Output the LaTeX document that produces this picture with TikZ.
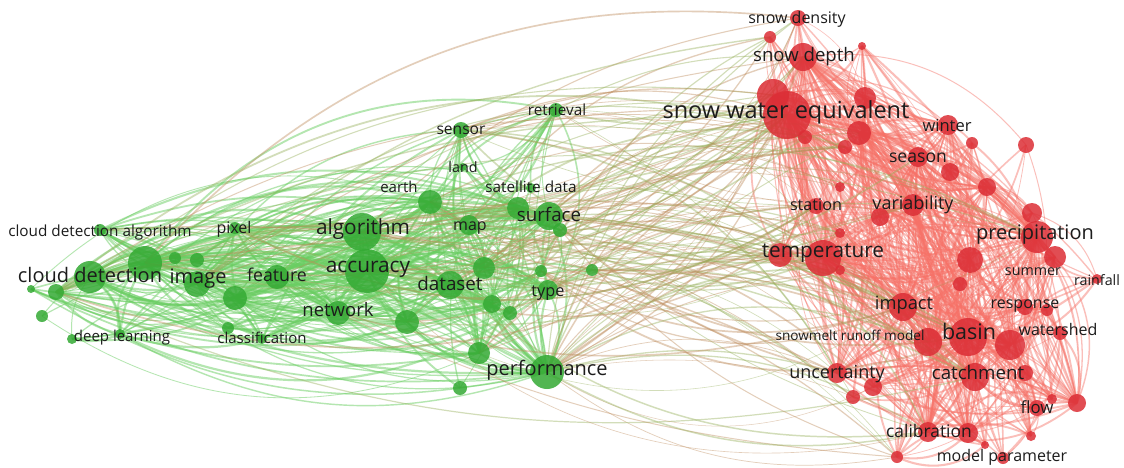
\documentclass[tikz,border=0pt]{standalone}
\usepackage{fontspec}
\setmainfont{Open Sans}
\pgfdeclarelayer{paper}
\pgfdeclarelayer{links}
\pgfsetlayers{paper,links,main}
\definecolor{gnodecol}{RGB}{52,170,52}
\definecolor{rnodecol}{RGB}{220,46,54}
\definecolor{glink}{RGB}{106,206,98}
\definecolor{rlink}{RGB}{246,114,104}
\definecolor{xlinkA}{RGB}{150,176,90}
\definecolor{xlinkB}{RGB}{190,140,92}
\definecolor{labelcol}{RGB}{28,28,28}
\tikzset{
  gn/.style={circle,inner sep=0pt,minimum size=#1pt,fill=gnodecol,fill opacity=0.85,draw=none},
  rn/.style={circle,inner sep=0pt,minimum size=#1pt,fill=rnodecol,fill opacity=0.85,draw=none},
  lab/.style={text=labelcol,inner sep=0pt,text height=1em,text depth=0em,
    font=\fontsize{#1}{#1}\selectfont},
  glinkstyle/.style={draw=glink,draw opacity=0.5},
  rlinkstyle/.style={draw=rlink,draw opacity=0.45},
  xlinkstyle/.style={draw=#1,draw opacity=0.42},
}
\begin{document}
\begin{tikzpicture}[x=1pt,y=-1pt]
\useasboundingbox (0,0) rectangle (1124,467);
\begin{pgfonlayer}{paper}
\fill[white] (0,0) rectangle (1124,467);
\end{pgfonlayer}

% ---- remote sensing / cloud detection cluster ----
\node[gn=32] (g1) at (90,277) {};
\node[gn=34] (g2) at (145,263) {};
\node[gn=26] (g3) at (197,284) {};
\node[gn=12] (g4) at (100,230) {};
\node[gn=12] (g5) at (235,228) {};
\node[gn=24] (g6) at (277,277) {};
\node[gn=10] (g7) at (120,334) {};
\node[gn=10] (g8) at (262,339) {};
\node[gn=38] (g9) at (362,232) {};
\node[gn=44] (g10) at (367,271) {};
\node[gn=24] (g11) at (338,313) {};
\node[gn=28] (g12) at (450,285) {};
\node[gn=20] (g13) at (469,225) {};
\node[gn=24] (g14) at (430,202) {};
\node[gn=8] (g15) at (463,167) {};
\node[gn=16] (g16) at (461,130) {};
\node[gn=14] (g17) at (556,110) {};
\node[gn=10] (g18) at (531,188) {};
\node[gn=28] (g19) at (549,216) {};
\node[gn=22] (g20) at (518,208) {};
\node[gn=14] (g21) at (560,230) {};
\node[gn=20] (g22) at (548,290) {};
\node[gn=34] (g23) at (547,372) {};
\node[gn=22] (g24) at (484,268) {};
\node[gn=12] (g25) at (541,271) {};
\node[gn=12] (g26) at (592,270) {};
\node[gn=18] (g27) at (492,304) {};
\node[gn=14] (g28) at (510,313) {};
\node[gn=24] (g29) at (407,322) {};
\node[gn=22] (g30) at (479,353) {};
\node[gn=14] (g31) at (460,388) {};
\node[gn=24] (g32) at (235,298) {};
\node[gn=12] (g33) at (175,258) {};
\node[gn=14] (g34) at (197,260) {};
\node[gn=16] (g35) at (56,292) {};
\node[gn=12] (g36) at (42,316) {};
\node[gn=8] (g37) at (31,289) {};
\node[gn=10] (g38) at (72,339) {};
\node[gn=12] (g39) at (228,328) {};

% ---- snow hydrology cluster ----
\node[rn=48] (r1) at (787,115) {};
\node[rn=32] (r2) at (773,95) {};
\node[rn=28] (r3) at (803,57) {};
\node[rn=16] (r4) at (798,18) {};
\node[rn=12] (r5) at (770,37) {};
\node[rn=8] (r6) at (862,46) {};
\node[rn=22] (r7) at (865,98) {};
\node[rn=24] (r8) at (859,133) {};
\node[rn=14] (r9) at (805,137) {};
\node[rn=14] (r10) at (845,147) {};
\node[rn=20] (r11) at (948,125) {};
\node[rn=12] (r12) at (972,143) {};
\node[rn=16] (r13) at (1026,145) {};
\node[rn=20] (r14) at (918,157) {};
\node[rn=18] (r15) at (950,172) {};
\node[rn=18] (r16) at (987,187) {};
\node[rn=10] (r17) at (840,187) {};
\node[rn=16] (r18) at (816,206) {};
\node[rn=22] (r19) at (913,205) {};
\node[rn=18] (r20) at (880,217) {};
\node[rn=10] (r21) at (840,233) {};
\node[rn=32] (r22) at (1037,237) {};
\node[rn=20] (r23) at (1032,213) {};
\node[rn=36] (r24) at (823,258) {};
\node[rn=24] (r25) at (780,255) {};
\node[rn=10] (r26) at (840,270) {};
\node[rn=26] (r27) at (970,260) {};
\node[rn=22] (r28) at (1055,257) {};
\node[rn=14] (r29) at (960,284) {};
\node[rn=10] (r30) at (1097,279) {};
\node[rn=28] (r31) at (903,307) {};
\node[rn=16] (r32) at (1025,307) {};
\node[rn=12] (r33) at (1047,310) {};
\node[rn=38] (r34) at (968,337) {};
\node[rn=28] (r35) at (928,342) {};
\node[rn=30] (r36) at (1010,345) {};
\node[rn=14] (r37) at (1060,333) {};
\node[rn=20] (r38) at (837,373) {};
\node[rn=18] (r39) at (873,387) {};
\node[rn=14] (r40) at (853,397) {};
\node[rn=28] (r41) at (975,377) {};
\node[rn=16] (r42) at (1025,373) {};
\node[rn=16] (r43) at (1037,408) {};
\node[rn=10] (r44) at (1052,399) {};
\node[rn=18] (r45) at (1077,403) {};
\node[rn=20] (r46) at (928,432) {};
\node[rn=20] (r47) at (968,433) {};
\node[rn=12] (r48) at (897,457) {};
\node[rn=8] (r49) at (985,445) {};
\node[rn=10] (r50) at (1031,436) {};
\node[rn=12] (r51) at (1003,458) {};

% ---- links (weighted random choice of end points, fixed seed) ----
\def\gw{{1,2,3,4,5,6,7,8,9,10,11,12,13,14,15,16,17,18,19,20,21,22,23,24,25,26,27,28,29,30,31,32,33,34,35,36,37,38,39,
  1,1,1,1,2,2,2,2,3,3,3,3,9,9,9,9,10,10,10,10,10,6,6,6,11,11,11,12,12,12,19,19,19,23,23,23,23,
  14,14,13,13,24,24,29,29,30,30,32,32,32,20,20,27,27,35,35,22,22,4,5,7,8,16,17}}
\def\rw{{1,2,3,4,5,6,7,8,9,10,11,12,13,14,15,16,17,18,19,20,21,22,23,24,25,26,27,28,29,30,31,32,33,34,35,36,37,38,39,40,41,42,43,44,45,46,47,48,49,50,51,
  1,1,1,1,1,1,2,2,2,3,3,3,3,24,24,24,24,24,22,22,22,22,22,34,34,34,34,34,36,36,36,35,35,35,31,31,31,31,
  41,41,41,41,19,19,19,14,14,14,27,27,27,25,25,8,8,8,7,7,38,38,38,46,46,46,47,47,43,43,11,11,16,16,28,28,45,45}}
\def\xg{{1,1,1,2,2,3,3,9,9,9,10,10,10,10,12,12,19,19,19,20,23,23,23,23,23,23,17,17,16,16,14,14,13,24,29,30,30,6,11,27,22,26,21,4,5,35,25,28}}
\def\xr{{1,1,1,1,1,1,1,2,2,3,3,3,24,24,24,24,25,25,22,22,34,34,34,31,31,38,38,38,39,46,46,19,18,18,8,35,41,41,21,17,26,40,48,4,5,14,9,10}}
\pgfmathtruncatemacro\gmax{dim(\gw)-1}
\pgfmathtruncatemacro\rmax{dim(\rw)-1}
\pgfmathtruncatemacro\xgmax{dim(\xg)-1}
\pgfmathtruncatemacro\xrmax{dim(\xr)-1}
\pgfmathsetseed{4242}
\begin{pgfonlayer}{links}
\foreach \n in {1,...,430}{
  \pgfmathrandominteger{\ia}{0}{\gmax}
  \pgfmathrandominteger{\ib}{0}{\gmax}
  \pgfmathtruncatemacro\a{\gw[\ia]}
  \pgfmathtruncatemacro\b{\gw[\ib]}
  \pgfmathrandominteger{\bb}{12}{34}
  \pgfmathrandominteger{\sg}{0}{1}
  \pgfmathtruncatemacro\bend{\sg==0 ? \bb : -\bb}
  \pgfmathsetmacro\lw{0.7+1.6*rnd}
  \ifnum\a=\b\else
    \draw[glinkstyle,line width=\lw pt] (g\a.center) to[bend left=\bend] (g\b.center);
  \fi
}
\foreach \n in {1,...,640}{
  \pgfmathrandominteger{\ia}{0}{\rmax}
  \pgfmathrandominteger{\ib}{0}{\rmax}
  \pgfmathtruncatemacro\a{\rw[\ia]}
  \pgfmathtruncatemacro\b{\rw[\ib]}
  \pgfmathrandominteger{\bb}{12}{34}
  \pgfmathrandominteger{\sg}{0}{1}
  \pgfmathtruncatemacro\bend{\sg==0 ? \bb : -\bb}
  \pgfmathsetmacro\lw{0.6+1.6*rnd}
  \ifnum\a=\b\else
    \draw[rlinkstyle,line width=\lw pt] (r\a.center) to[bend left=\bend] (r\b.center);
  \fi
}
\foreach \n in {1,...,170}{
  \pgfmathrandominteger{\ia}{0}{\xgmax}
  \pgfmathrandominteger{\ib}{0}{\xrmax}
  \pgfmathtruncatemacro\a{\xg[\ia]}
  \pgfmathtruncatemacro\b{\xr[\ib]}
  \pgfmathrandominteger{\bb}{10}{30}
  \pgfmathrandominteger{\sg}{0}{2}
  \pgfmathtruncatemacro\bend{\sg>0 ? \bb : -\bb}
  \pgfmathrandominteger{\cc}{0}{1}
  \pgfmathsetmacro\lw{0.5+1.3*rnd}
  \ifnum\cc=0
    \draw[xlinkstyle=xlinkA,line width=\lw pt] (g\a.center) to[bend left=\bend] (r\b.center);
  \else
    \draw[xlinkstyle=xlinkB,line width=\lw pt] (g\a.center) to[bend left=\bend] (r\b.center);
  \fi
}
\end{pgfonlayer}

% ---- labels ----
\node[lab=20] (t1) at (90,277) {cloud detection};
\node[lab=20] (t2) at (198,278) {image};
\node[lab=15.3] (t3) at (100,231) {cloud detection algorithm};
\node[lab=16] (t4) at (234,228) {pixel};
\node[lab=17.7] (t5) at (277,276) {feature};
\node[lab=15] (t6) at (122,336) {deep learning};
\node[lab=15] (t7) at (262,338) {classification};
\node[lab=20.8] (t8) at (363,229) {algorithm};
\node[lab=20.8] (t9) at (368,267) {accuracy};
\node[lab=18.5] (t10) at (338,311) {network};
\node[lab=18.8] (t11) at (450,285) {dataset};
\node[lab=16] (t12) at (470,225) {map};
\node[lab=15] (t13) at (399,187) {earth};
\node[lab=14.3] (t14) at (463,167) {land};
\node[lab=15.6] (t15) at (461,129) {sensor};
\node[lab=15.3] (t16) at (557,110) {retrieval};
\node[lab=15.3] (t17) at (531,187) {satellite data};
\node[lab=18.7] (t18) at (549,216) {surface};
\node[lab=16.3] (t19) at (548,291) {type};
\node[lab=20] (t20) at (547,370) {performance};
\node[lab=16] (t21) at (797,18) {snow density};
\node[lab=18.6] (t22) at (804,56) {snow depth};
\node[lab=23.5] (t23) at (786,113) {snow water equivalent};
\node[lab=16.5] (t24) at (947,126) {winter};
\node[lab=17.6] (t25) at (918,157) {season};
\node[lab=16.2] (t26) at (816,205) {station};
\node[lab=18] (t27) at (913,204) {variability};
\node[lab=20] (t28) at (1035,234) {precipitation};
\node[lab=20.8] (t29) at (823,252) {temperature};
\node[lab=14.3] (t30) at (1033,270) {summer};
\node[lab=14.3] (t31) at (1097,280) {rainfall};
\node[lab=18.3] (t32) at (904,304) {impact};
\node[lab=16] (t33) at (1025,303) {response};
\node[lab=21.5] (t34) at (969,334) {basin};
\node[lab=16] (t35) at (1058,330) {watershed};
\node[lab=13.6] (t36) at (850,335) {snowmelt runoff model};
\node[lab=18] (t37) at (837,373) {uncertainty};
\node[lab=18.7] (t38) at (978,374) {catchment};
\node[lab=16.8] (t39) at (1037,408) {flow};
\node[lab=17.4] (t40) at (929,432) {calibration};
\node[lab=16] (t41) at (1002,456) {model parameter};
\end{tikzpicture}
\end{document}
